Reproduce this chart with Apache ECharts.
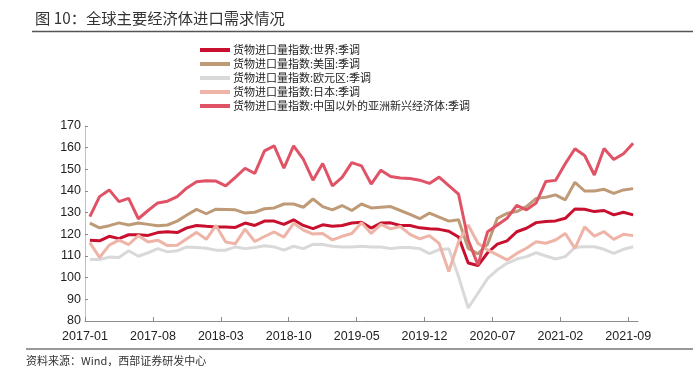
<!DOCTYPE html>
<html style="height: 100%">
<head>
    <meta charset="utf-8">
</head>
<body style="height: 100%; margin: 0; background: #fff">
<div id="container" style="width: 693px; height: 376px"></div>
<script type="text/javascript" src="https://cdn.jsdelivr.net/npm/echarts@6/dist/echarts.min.js"></script>
<script type="text/javascript">
    // 2017-01 .. 2021-09
    var months = [];
    for (var y = 2017; y <= 2021; y++) {
        for (var m = 1; m <= 12; m++) {
            if (y === 2021 && m > 9) break;
            months.push(y + '-' + (m < 10 ? '0' + m : m));
        }
    }

    var seriesNames = [
        '货物进口量指数:世界:季调',
        '货物进口量指数:美国:季调',
        '货物进口量指数:欧元区:季调',
        '货物进口量指数:日本:季调',
        '货物进口量指数:中国以外的亚洲新兴经济体:季调'
    ];
    var colors = ['#c8102e', '#bf9a77', '#d9d9d9', '#eeb4a7', '#e05366'];

    var world = [117.3, 117.0, 119.1, 118.0, 119.8, 119.8, 119.5, 120.8, 121.2, 120.8,
        123.0, 124.1, 123.7, 123.4, 123.4, 123.2, 125.2, 124.1, 126.1, 126.1,
        124.6, 126.7, 124.1, 122.6, 124.4, 123.7, 124.1, 125.2, 125.6, 122.9,
        125.2, 125.3, 124.1, 124.1, 123.0, 122.6, 122.3, 121.4, 118.8, 106.8,
        105.6, 111.5, 115.5, 117.0, 121.2, 122.8, 125.4, 125.9, 126.2, 127.4,
        131.7, 131.6, 130.5, 131.0, 129.0, 130.2, 129.0];
    var us = [125.2, 123.0, 124.0, 125.3, 124.3, 125.2, 124.6, 124.0, 124.3, 126.1,
        128.9, 131.5, 129.5, 131.6, 131.5, 131.3, 129.8, 130.2, 131.8, 132.2,
        134.0, 134.0, 132.5, 136.3, 132.8, 131.3, 133.3, 131.0, 134.0, 132.2,
        132.5, 132.8, 131.0, 129.2, 127.2, 129.8, 127.9, 126.1, 126.7, 113.5,
        111.0, 115.5, 127.4, 129.7, 130.5, 132.8, 136.6, 137.1, 138.2, 135.9,
        144.0, 140.0, 140.0, 140.8, 138.9, 140.5, 141.1];
    var euro = [108.4, 108.4, 109.5, 109.3, 112.4, 109.9, 111.5, 113.4, 111.9, 112.4,
        114.2, 113.9, 113.6, 112.7, 112.7, 114.2, 113.4, 113.9, 114.7, 114.2,
        112.7, 114.5, 113.4, 115.4, 115.3, 114.5, 114.2, 114.2, 114.5, 114.2,
        114.2, 113.4, 113.9, 113.9, 113.4, 111.1, 112.9, 113.3, 100.5, 86.0,
        92.8, 99.7, 103.6, 106.6, 108.6, 109.7, 111.5, 110.0, 108.6, 109.7,
        114.0, 114.3, 114.3, 113.1, 111.2, 113.1, 114.3];
    var japan = [116.2, 109.3, 115.0, 117.3, 115.3, 119.4, 116.5, 117.3, 114.8, 115.0,
        118.0, 120.9, 117.7, 124.1, 116.5, 115.7, 122.4, 116.7, 119.0, 121.1,
        118.7, 125.1, 122.0, 120.1, 120.4, 117.4, 119.1, 120.4, 125.3, 120.4,
        124.6, 122.5, 123.6, 120.0, 117.9, 119.4, 115.8, 102.8, 116.5, 124.3,
        115.9, 112.8, 110.5, 108.2, 111.2, 113.6, 116.6, 115.9, 117.4, 120.4,
        113.5, 123.4, 119.2, 121.2, 117.7, 120.0, 119.4];
    var asia = [128.2, 137.4, 140.5, 135.1, 136.6, 127.2, 131.0, 134.5, 135.3, 137.4,
        141.4, 144.3, 144.7, 144.6, 142.4, 146.3, 150.5, 148.1, 158.5, 160.8,
        150.5, 160.8, 154.7, 145.0, 152.7, 142.4, 146.3, 153.1, 151.6, 143.2,
        149.6, 146.7, 146.0, 145.8, 145.0, 143.5, 146.4, 142.5, 138.6, 117.4,
        105.9, 121.2, 124.3, 127.4, 133.4, 131.3, 134.5, 144.4, 144.9, 152.6,
        159.5, 156.4, 147.4, 159.6, 154.5, 157.2, 162.0];

    var allData = [world, us, euro, japan, asia];
    var labelStep = 7;
    var tickValues = [];
    for (var t = 0; t < months.length; t += labelStep) tickValues.push(t);

    var dom = document.getElementById('container');
    var myChart = echarts.init(dom);

    var series = allData.map(function (arr, k) {
        return {
            name: seriesNames[k],
            type: 'line',
            showSymbol: false,
            symbol: 'none',
            data: arr.map(function (v, i) { return [i + 0.5, v]; }),
            lineStyle: {width: 3, color: colors[k]},
            itemStyle: {color: colors[k]}
        };
    });

    var option = {
        animation: false,
        textStyle: {fontFamily: 'Liberation Sans, Arial, sans-serif'},
        title: {
            text: '图 10：全球主要经济体进口需求情况',
            left: 30,
            top: 6,
            textStyle: {fontSize: 15.3, fontWeight: 'normal', color: '#333', fontFamily: 'Noto Sans CJK SC'}
        },
        legend: {
            orient: 'vertical',
            left: 195,
            top: 39,
            itemWidth: 30,
            itemHeight: 4,
            itemGap: 2,
            icon: 'rect',
            textStyle: {fontSize: 11, lineHeight: 12, color: '#222', fontFamily: 'Noto Sans CJK SC', padding: [0, 0, 0, -2]},
            data: seriesNames
        },
        grid: {left: 85, right: 55, top: 126, bottom: 55},
        xAxis: {
            type: 'value',
            min: 0,
            max: months.length,
            interval: labelStep,
            axisLine: {lineStyle: {color: '#8c8c8c', width: 1}},
            axisTick: {inside: true, length: 4, customValues: tickValues, lineStyle: {color: '#8c8c8c'}},
            axisLabel: {
                customValues: tickValues,
                color: '#222',
                fontSize: 12.5,
                margin: 9,
                formatter: function (v) { return months[v] || ''; }
            },
            splitLine: {show: false}
        },
        yAxis: {
            type: 'value',
            min: 80,
            max: 170,
            interval: 10,
            axisLine: {show: true, lineStyle: {color: '#bfbfbf', width: 1}},
            axisTick: {show: true, inside: true, length: 3, lineStyle: {color: '#8c8c8c'}},
            axisLabel: {color: '#222', fontSize: 12.5, margin: 4},
            splitLine: {show: false}
        },
        graphic: [
            {type: 'line', shape: {x1: 32, y1: 31.5, x2: 693, y2: 31.5}, style: {stroke: '#555', lineWidth: 1.5}},
            {type: 'line', shape: {x1: 26, y1: 349, x2: 693, y2: 349}, style: {stroke: '#999', lineWidth: 2}},
            {type: 'text', left: 26, top: 355, style: {text: '资料来源：Wind，西部证券研发中心', fontSize: 11, fill: '#333', fontFamily: 'Noto Sans CJK SC'}}
        ],
        series: series
    };

    myChart.setOption(option);
</script>
</body>
</html>
